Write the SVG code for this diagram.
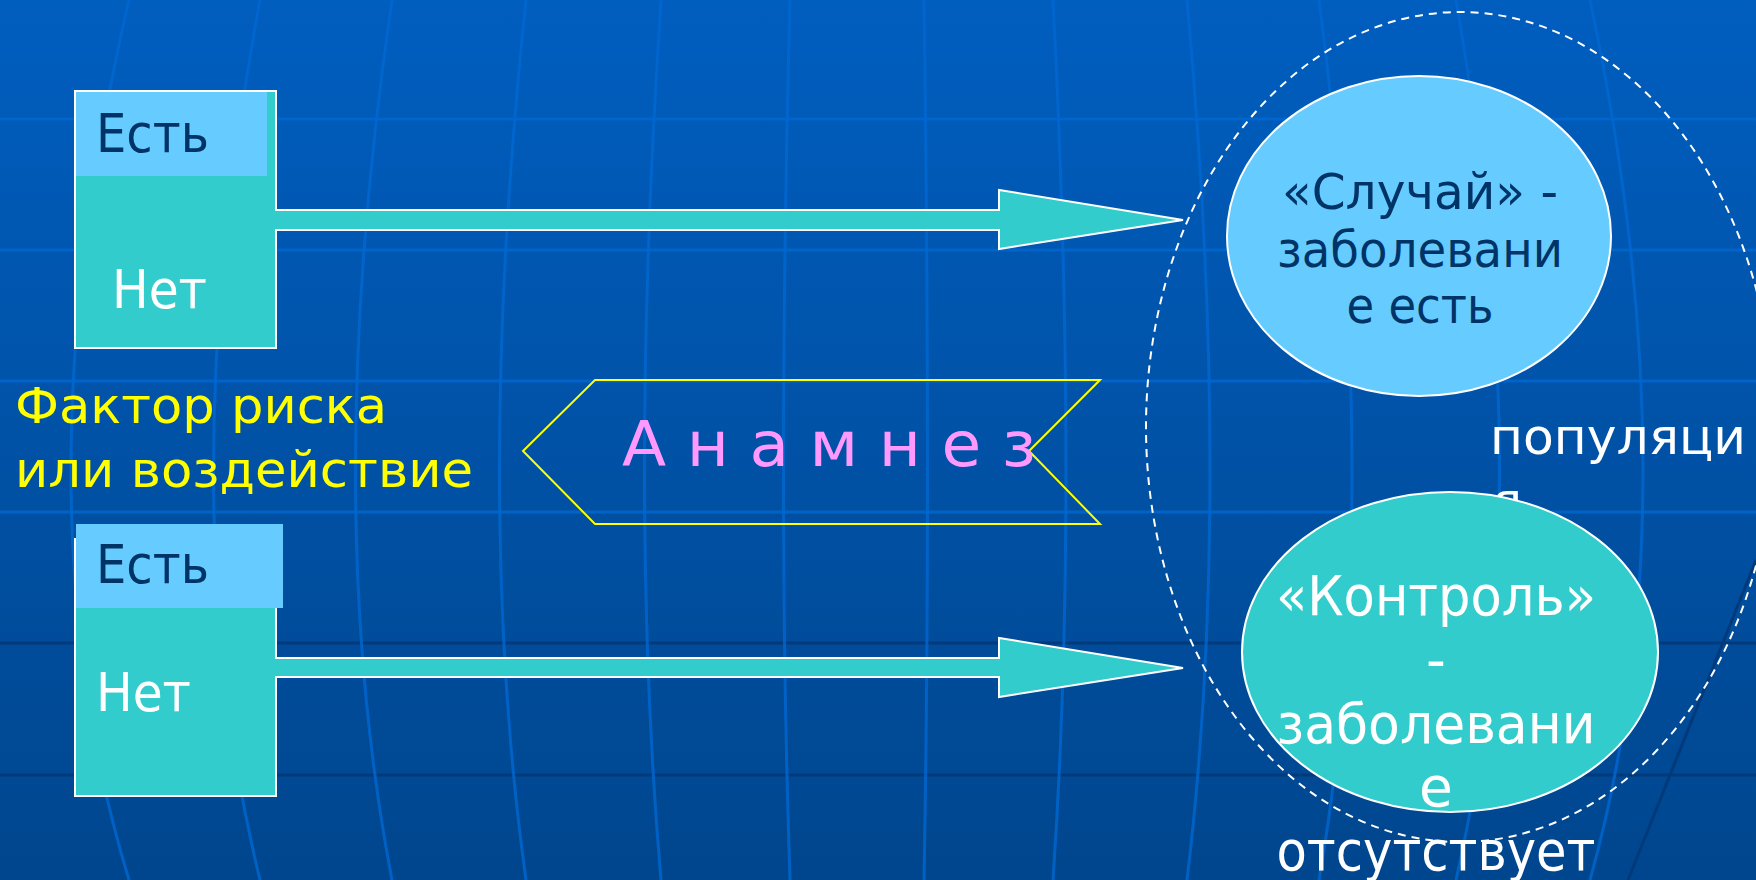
<svg xmlns="http://www.w3.org/2000/svg" width="1756" height="880" viewBox="0 0 1756 880">
<defs>
<linearGradient id="bg" x1="0" y1="0" x2="0" y2="1">
<stop offset="0" stop-color="#005EBF"/>
<stop offset="1" stop-color="#00468E"/>
</linearGradient>
<style>
.grid{fill:none;stroke:#0068D2;stroke-width:3;opacity:0.8}
.gridd{fill:none;stroke:#003A7A;stroke-width:3}
.shape{fill:#33CCCC;stroke:#FFFFFF;stroke-width:2}
.lb{fill:#66CCFF}
.t{font-family:"DejaVu Sans","Liberation Sans",sans-serif}
.dark{fill:#003366}
.white{fill:#FFFFFF}
.mid{text-anchor:middle}
</style>
</defs>
<rect width="1756" height="880" fill="url(#bg)"/>
<g id="background-grid">
<line class="grid" x1="0" y1="119" x2="1756" y2="119"/>
<line class="grid" x1="0" y1="250" x2="1756" y2="250"/>
<line class="grid" x1="0" y1="381" x2="1756" y2="381"/>
<line class="grid" x1="0" y1="512" x2="1756" y2="512"/>
<line class="gridd" x1="0" y1="643" x2="1756" y2="643"/>
<line class="gridd" x1="0" y1="775" x2="1756" y2="775"/>
<path class="grid" d="M129,0 Q13,500 129,880"/>
<path class="grid" d="M260,0 Q167,500 260,880"/>
<path class="grid" d="M392,0 Q319,500 392,880"/>
<path class="grid" d="M526,0 Q473,500 526,880"/>
<path class="grid" d="M661,0 Q628,500 661,880"/>
<path class="grid" d="M790,0 Q777,500 790,880"/>
<path class="grid" d="M924,0 Q931,500 924,880"/>
<path class="grid" d="M1053,0 Q1079,500 1053,880"/>
<path class="grid" d="M1187,0 Q1233,500 1187,880"/>
<path class="grid" d="M1319,0 Q1385,500 1319,880"/>
<path class="grid" d="M1456,0 Q1543,500 1456,880"/>
<path class="grid" d="M1590,0 Q1696,500 1590,880"/>
<path class="gridd" d="M1756,560 Q1700,700 1628,880"/>
</g>
<g id="population">
<ellipse cx="1460" cy="427" rx="314" ry="415" fill="none" stroke="#FFFFFF" stroke-width="2" stroke-dasharray="8 6"/>
<text class="t white" x="1490" y="454" font-size="50" textLength="256" lengthAdjust="spacingAndGlyphs">популяци</text>
<text class="t white" x="1492" y="518" font-size="50">я</text>
</g>
<g id="case">
<ellipse cx="1419" cy="236" rx="192" ry="160" fill="#66CCFF" stroke="#FFFFFF" stroke-width="2"/>
<text class="t dark mid" x="1420" y="209" font-size="49" textLength="276" lengthAdjust="spacingAndGlyphs">«Случай» -</text>
<text class="t dark mid" x="1420" y="267" font-size="49" textLength="286" lengthAdjust="spacingAndGlyphs">заболевани</text>
<text class="t dark mid" x="1420" y="323" font-size="49" textLength="147" lengthAdjust="spacingAndGlyphs">е есть</text>
</g>
<g id="control">
<ellipse cx="1450" cy="652" rx="208" ry="160" fill="#33CCCC" stroke="#FFFFFF" stroke-width="2"/>
<text class="t white mid" x="1436" y="615" font-size="55" textLength="320" lengthAdjust="spacingAndGlyphs">«Контроль»</text>
<text class="t white mid" x="1436" y="679" font-size="55">-</text>
<text class="t white mid" x="1436" y="743" font-size="55" textLength="319" lengthAdjust="spacingAndGlyphs">заболевани</text>
<text class="t white mid" x="1436" y="806" font-size="55">е</text>
<text class="t white mid" x="1436" y="870" font-size="55" textLength="319" lengthAdjust="spacingAndGlyphs">отсутствует</text>
</g>
<g id="connectors">
<path class="shape" d="M75,91 H276 V210 H999 V190 L1183,220 L999,249 V230 H276 V348 H75 Z"/>
<path class="shape" d="M75,539 H276 V658 H999 V638 L1183,668 L999,697 V677 H276 V796 H75 Z"/>
</g>
<g id="exposure-top">
<rect class="lb" x="76" y="92" width="191" height="84"/>
<text class="t dark" x="96" y="152" font-size="54" textLength="113" lengthAdjust="spacingAndGlyphs">Есть</text>
<text class="t white" x="112" y="308" font-size="54" textLength="95" lengthAdjust="spacingAndGlyphs">Нет</text>
</g>
<g id="exposure-bottom">
<rect class="lb" x="76" y="524" width="207" height="84"/>
<text class="t dark" x="96" y="583" font-size="54" textLength="113" lengthAdjust="spacingAndGlyphs">Есть</text>
<text class="t white" x="96" y="711" font-size="54" textLength="95" lengthAdjust="spacingAndGlyphs">Нет</text>
</g>
<g id="anamnesis">
<polygon points="595,380 1100,380 1029,451 1100,524 595,524 523,451" fill="none" stroke="#FFFF00" stroke-width="2"/>
<text class="t" x="622" y="466" font-size="62" fill="#FF99FF" textLength="414" lengthAdjust="spacingAndGlyphs">А н а м н е з</text>
</g>
<g id="risk-factor">
<text class="t" x="15" y="423" font-size="50" fill="#FFFF00" textLength="372" lengthAdjust="spacingAndGlyphs">Фактор риска</text>
<text class="t" x="15" y="487" font-size="50" fill="#FFFF00" textLength="458" lengthAdjust="spacingAndGlyphs">или воздействие</text>
</g>
</svg>
